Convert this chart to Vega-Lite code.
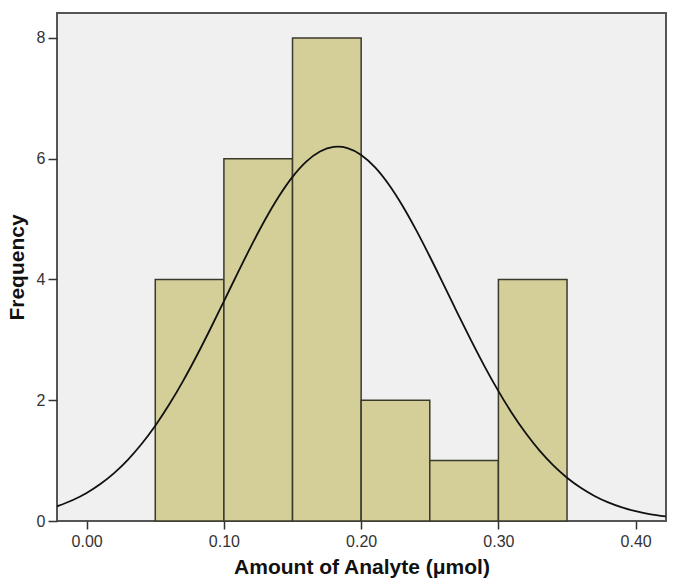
{
  "$schema": "https://vega.github.io/schema/vega-lite/v6.json",
  "width": 609,
  "height": 508,
  "autosize": {"type": "none"},
  "padding": {"left": 57, "top": 13, "right": 9, "bottom": 64},
  "background": "white",
  "config": {
    "view": {"fill": "#f0f0f0", "stroke": "#555555", "strokeWidth": 2},
    "font": "Liberation Sans",
    "axis": {
      "grid": false,
      "domain": false,
      "tickColor": "#333333",
      "tickWidth": 1.5,
      "tickSize": 8,
      "labelFont": "Liberation Sans",
      "labelFontSize": 16,
      "labelColor": "#333333",
      "titleFont": "Liberation Sans",
      "titleFontSize": 21,
      "titleFontWeight": "bold",
      "titleColor": "#111111"
    }
  },
  "datasets": {
    "bins": [
      {"lo": 0.05, "hi": 0.10, "count": 4},
      {"lo": 0.10, "hi": 0.15, "count": 6},
      {"lo": 0.15, "hi": 0.20, "count": 8},
      {"lo": 0.20, "hi": 0.25, "count": 2},
      {"lo": 0.25, "hi": 0.30, "count": 1},
      {"lo": 0.30, "hi": 0.35, "count": 4}
    ],
    "curve": [
      {"x": -0.0216, "y": 0.243},
      {"x": -0.01, "y": 0.348},
      {"x": 0.00, "y": 0.465},
      {"x": 0.01, "y": 0.612},
      {"x": 0.02, "y": 0.794},
      {"x": 0.03, "y": 1.014},
      {"x": 0.04, "y": 1.275},
      {"x": 0.05, "y": 1.578},
      {"x": 0.06, "y": 1.924},
      {"x": 0.07, "y": 2.309},
      {"x": 0.08, "y": 2.729},
      {"x": 0.09, "y": 3.176},
      {"x": 0.10, "y": 3.639},
      {"x": 0.11, "y": 4.106},
      {"x": 0.12, "y": 4.561},
      {"x": 0.13, "y": 4.989},
      {"x": 0.14, "y": 5.374},
      {"x": 0.15, "y": 5.699},
      {"x": 0.16, "y": 5.951},
      {"x": 0.17, "y": 6.119},
      {"x": 0.18, "y": 6.196},
      {"x": 0.183, "y": 6.2},
      {"x": 0.19, "y": 6.177},
      {"x": 0.20, "y": 6.063},
      {"x": 0.21, "y": 5.860},
      {"x": 0.22, "y": 5.577},
      {"x": 0.23, "y": 5.226},
      {"x": 0.24, "y": 4.822},
      {"x": 0.25, "y": 4.381},
      {"x": 0.26, "y": 3.920},
      {"x": 0.27, "y": 3.452},
      {"x": 0.28, "y": 2.995},
      {"x": 0.29, "y": 2.557},
      {"x": 0.30, "y": 2.151},
      {"x": 0.31, "y": 1.781},
      {"x": 0.32, "y": 1.452},
      {"x": 0.33, "y": 1.165},
      {"x": 0.34, "y": 0.921},
      {"x": 0.35, "y": 0.717},
      {"x": 0.36, "y": 0.550},
      {"x": 0.37, "y": 0.415},
      {"x": 0.38, "y": 0.308},
      {"x": 0.39, "y": 0.225},
      {"x": 0.40, "y": 0.162},
      {"x": 0.41, "y": 0.115},
      {"x": 0.422, "y": 0.075}
    ]
  },
  "layer": [
    {
      "data": {"name": "bins"},
      "mark": {"type": "rect", "fill": "#d4cf98", "stroke": "#3a3a2c", "strokeWidth": 1.5},
      "encoding": {
        "x": {
          "field": "lo", "type": "quantitative",
          "scale": {"domain": [-0.0216, 0.4221], "nice": false, "zero": false},
          "axis": {"values": [0, 0.1, 0.2, 0.3, 0.4], "format": ".2f", "labelPadding": 4, "titlePadding": 7, "title": "Amount of Analyte (μmol)"}
        },
        "x2": {"field": "hi"},
        "y": {
          "field": "count", "type": "quantitative",
          "scale": {"domain": [0, 8.414], "nice": false},
          "axis": {"values": [0, 2, 4, 6, 8], "format": "d", "tickSize": 9, "labelPadding": 3, "titlePadding": 9, "title": "Frequency"}
        },
        "y2": {"datum": 0}
      }
    },
    {
      "data": {"name": "curve"},
      "mark": {"type": "line", "color": "#111111", "strokeWidth": 1.8, "interpolate": "monotone", "clip": true},
      "encoding": {
        "x": {"field": "x", "type": "quantitative"},
        "y": {"field": "y", "type": "quantitative"}
      }
    }
  ]
}
